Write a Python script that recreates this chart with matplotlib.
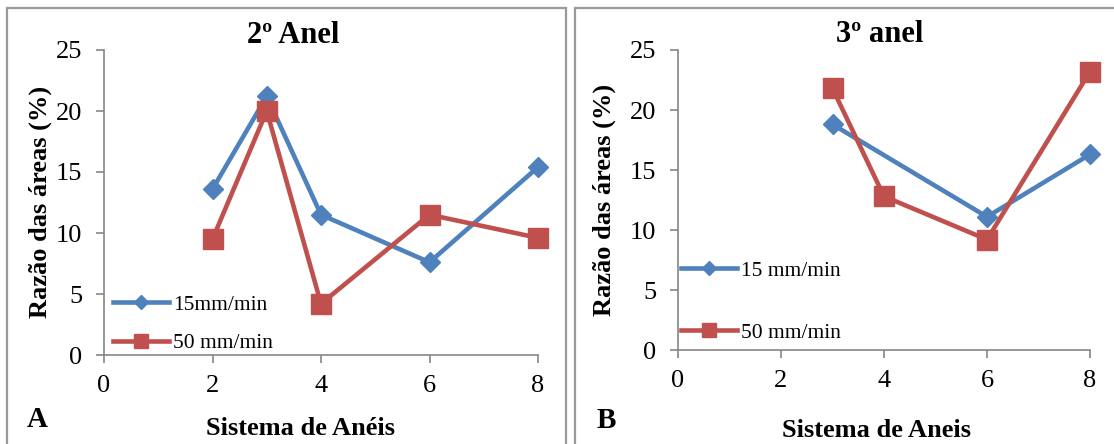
import matplotlib
matplotlib.use("Agg")
import matplotlib.pyplot as plt
from matplotlib.patches import Rectangle

plt.rcParams['font.family'] = ['Liberation Serif', 'DejaVu Serif']

# ---- data ----
x_left_15 = [2, 3, 4, 6, 8]
y_left_15 = [13.6, 21.2, 11.5, 7.6, 15.4]
x_left_50 = [2, 3, 4, 6, 8]
y_left_50 = [9.5, 20.0, 4.2, 11.5, 9.6]

x_right_15 = [3, 6, 8]
y_right_15 = [18.8, 11.1, 16.3]
x_right_50 = [3, 4, 6, 8]
y_right_50 = [21.8, 12.8, 9.2, 23.2]

labels_left = ["15mm/min", "50 mm/min"]
labels_right = ["15 mm/min", "50 mm/min"]
xticks = [0, 2, 4, 6, 8]
yticks = [0, 5, 10, 15, 20, 25]

BLUE = "#4F81BD"
RED = "#C0504D"
GRAY = "#868686"

W, H = 1114, 444
fig = plt.figure(figsize=(W / 100, H / 100), dpi=100)

def fx(px):
    return px / W

def fy(py):
    return 1 - py / H

# panel borders
fig.patches.append(Rectangle((fx(7), fy(460)), fx(566 - 7), fy(8) - fy(460),
                             transform=fig.transFigure, fill=False,
                             edgecolor="#9a9a9a", linewidth=1.6))
fig.patches.append(Rectangle((fx(575), fy(460)), fx(1130 - 575), fy(8) - fy(460),
                             transform=fig.transFigure, fill=False,
                             edgecolor="#9a9a9a", linewidth=1.6))

def make_axes(left_px, right_px, top_px, bottom_px):
    ax = fig.add_axes([fx(left_px), fy(bottom_px), fx(right_px - left_px),
                       fy(top_px) - fy(bottom_px)])
    ax.set_xlim(0, 8)
    ax.set_ylim(0, 25)
    ax.set_xticks(xticks)
    ax.set_yticks(yticks)
    for s in ("top", "right"):
        ax.spines[s].set_visible(False)
    for s in ("left", "bottom"):
        ax.spines[s].set_color(GRAY)
        ax.spines[s].set_linewidth(1.2)
    ax.tick_params(direction="out", length=5.5, width=1.2, color=GRAY,
                   labelsize=19)
    ax.tick_params(axis="x", pad=9)
    ax.tick_params(axis="y", pad=10)
    ax.patch.set_alpha(0)
    return ax

leg_kw = dict(frameon=False, loc="center left", fontsize=15.5,
              handlelength=2.6, handletextpad=0.2, markerscale=0.72,
              borderaxespad=0)

# ---- left chart ----
axL = make_axes(104, 538, 50, 355)
axL.plot(x_left_15, y_left_15, color=BLUE, lw=3.3, marker="D", ms=10,
         label=labels_left[0], clip_on=False, zorder=3)
axL.plot(x_left_50, y_left_50, color=RED, lw=3.3, marker="s", ms=14,
         label=labels_left[1], clip_on=False, zorder=4)
axL.legend(bbox_to_anchor=(0.001, 0.1017), labelspacing=0.86, **leg_kw)

fig.text(fx(293), fy(43), "2º Anel", ha="center", va="baseline",
         fontsize=22, fontweight="bold")
fig.text(fx(300), fy(435), "Sistema de Anéis", ha="center", va="baseline",
         fontsize=19, fontweight="bold")
fig.text(fx(40), fy(202), "Razão das áreas (%)", ha="center", va="center",
         rotation=90, fontsize=19, fontweight="bold")
fig.text(fx(37), fy(427), "A", ha="center", va="baseline",
         fontsize=21, fontweight="bold")

# ---- right chart ----
axR = make_axes(678, 1090, 50, 350)
axR.plot(x_right_15, y_right_15, color=BLUE, lw=3.3, marker="D", ms=10,
         label=labels_right[0], clip_on=False, zorder=3)
axR.plot(x_right_50, y_right_50, color=RED, lw=3.3, marker="s", ms=14,
         label=labels_right[1], clip_on=False, zorder=4)
axR.legend(bbox_to_anchor=(-0.0136, 0.161), labelspacing=1.93, **leg_kw)

fig.text(fx(880), fy(42), "3º anel", ha="center", va="baseline",
         fontsize=22, fontweight="bold")
fig.text(fx(877), fy(437), "Sistema de Aneis", ha="center", va="baseline",
         fontsize=19, fontweight="bold")
fig.text(fx(604), fy(200), "Razão das áreas (%)", ha="center", va="center",
         rotation=90, fontsize=19, fontweight="bold")
fig.text(fx(606), fy(428), "B", ha="center", va="baseline",
         fontsize=21, fontweight="bold")

fig.savefig("out.png", dpi=100)
